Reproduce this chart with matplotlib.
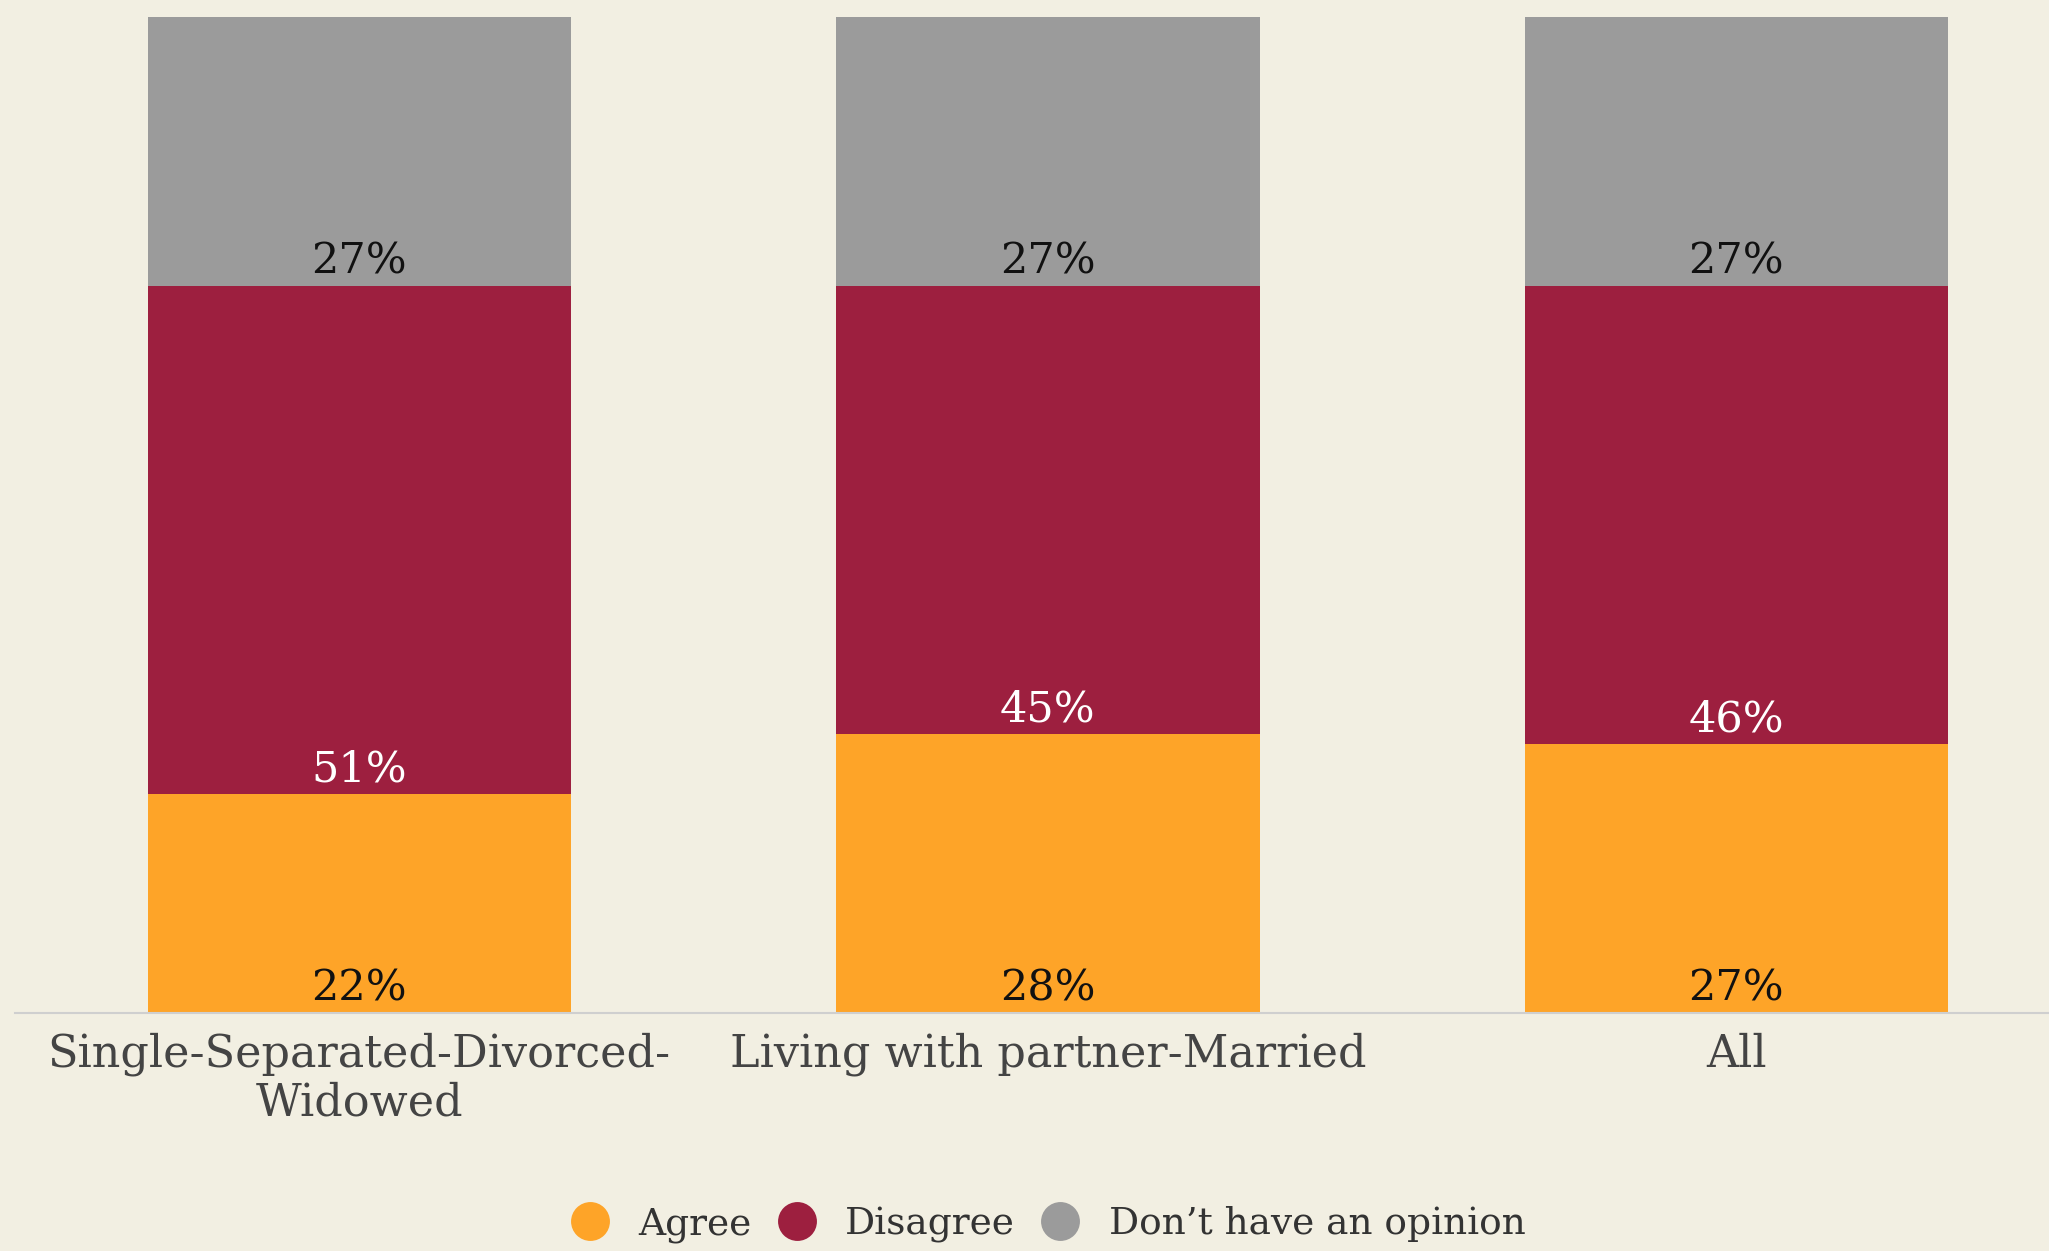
import matplotlib
matplotlib.use("Agg")
import matplotlib.pyplot as plt
from matplotlib.lines import Line2D
import numpy as np

# survey shares (%) per marital-status group
groups = ["Single-Separated-Divorced-\nWidowed", "Living with partner-Married", "All"]
agree = [22, 28, 27]
disagree = [51, 45, 46]
no_opinion = [27, 27, 27]

series_names = ["Agree", "Disagree", "Don\u2019t have an opinion"]
colors = ["#FEA428", "#9D1F3F", "#9B9B9B"]
label_colors = ["#111111", "#FFFFFF", "#111111"]
bg = "#F2EFE2"

plt.rcParams["font.family"] = ["DejaVu Serif"]

fig = plt.figure(figsize=(20.49, 12.51), dpi=100, facecolor=bg)
ax = fig.add_axes([0.0073, 0.190, 0.9927, 0.7962])
ax.set_facecolor(bg)

x = np.arange(len(groups))
bottom = np.zeros(len(groups))
for vals, col, tcol in zip([agree, disagree, no_opinion], colors, label_colors):
    ax.bar(x, vals, width=0.615, bottom=bottom, color=col, linewidth=0)
    for xi, b, v in zip(x, bottom, vals):
        ax.annotate(f"{v}%", xy=(xi, b), xytext=(0, 9), textcoords="offset points",
                    ha="center", va="baseline", fontsize=31, color=tcol)
    bottom += np.array(vals)

ax.set_xlim(-0.5, 2.454)
ax.set_ylim(0, 100)
ax.set_yticks([])
ax.set_xticks(x)
ax.set_xticklabels(groups, fontsize=32, color="#444444", linespacing=1.15)
ax.tick_params(axis="x", length=0, pad=14)
for side in ["top", "right", "left"]:
    ax.spines[side].set_visible(False)
ax.spines["bottom"].set_color("#CFCFCF")
ax.spines["bottom"].set_linewidth(1.5)

handles = [Line2D([], [], marker="o", linestyle="", markersize=28,
                  markerfacecolor=c, markeredgewidth=0) for c in colors]
fig.legend(handles, series_names, loc="center", bbox_to_anchor=(0.507, 0.021),
           ncol=3, frameon=False, fontsize=27, handletextpad=0.3,
           columnspacing=0.2, labelcolor="#333333")

fig.savefig("out.png", dpi=100, facecolor=bg)
